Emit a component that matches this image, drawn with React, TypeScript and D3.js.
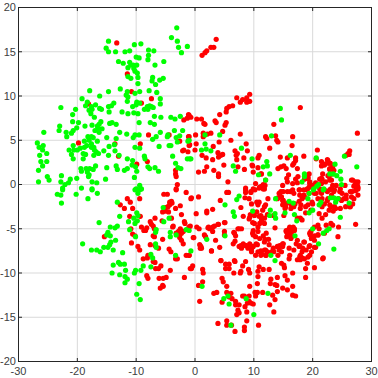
import React from "react";
import * as d3 from "d3";

const xTicks = [-30, -20, -10, 0, 10, 20, 30];
const yTicks = [-20, -15, -10, -5, 0, 5, 10, 15, 20];

const greenPoints: [number, number][] = [
[-26.8,4.7],[-26.5,4.2],[-25.8,4.4],[-25.9,3.9],[-25.2,3.5],[-26.4,3.3],[-26.2,2.6],[-25.2,2.6],[-25.9,2.1],[-26.6,1.6],[-25.1,0.9],[-24.8,0.5],[-26.6,0.3],[-22.7,1.0],[-22.8,0.3],[-22.1,0],[-22.5,-0.4],[-21.2,0.6],[-21.5,0.2],
[-23,6.6],[-23.1,6.1],[-21.9,5.9],[-21.8,5.4],[-21,5.8],[-20.7,6.1],[-20.1,6.4],[-25.7,5.9],[-22.8,8.7],[-20.8,7.9],[-20.3,8.5],[-20.8,7.1],[-19.8,7.0],[-19.2,9.7],[-17.9,10.6],[-18.3,9.3],[-18.6,8.9],[-17.6,8.8],[-16.9,9.0],[-18,8.4],[-17.5,8.5],[-17.7,8.0],[-17.1,7.6],[-16.2,10],[-14.7,10.5],[-16.2,8.6],[-15.9,8.5],[-14.7,8.8],[-14.2,8.9],[-13.8,9.2],[-14.6,8.2],[-16,7.1],[-16.3,6.8],[-16.6,6.6],[-18.7,6.6],[-17.5,6.7],[-17,6.1],[-16.5,6.3],[-15.8,6.3],[-16.3,5.9],[-14.5,6.9],[-14.1,7],[-13.4,6.8],[-12.8,5.9],[-15,5.3],[-13.4,5.2],[-11.6,5.7],[-10.5,5.3],[-10.2,5.6],[-9.5,5.6],
[-18.8,4.9],[-18.2,5.4],[-17.6,5.4],[-18,5],[-17.3,5.3],[-16.6,4.9],[-20.7,4.4],[-20.6,3.9],[-21.4,3.9],[-21,3.4],[-20.7,2.9],[-20,3.9],[-19.5,4.1],[-18.8,4.2],[-18.4,4.4],[-19,3.5],[-18.6,3.4],[-19,2.9],[-17.6,4.6],[-17.6,4.2],[-17.2,4.2],[-17.1,3.9],[-16.8,3.7],[-17.2,3.3],[-16.4,3.5],[-15.5,3.8],[-14.6,4.3],[-13.7,4.5],[-13.6,3.8],[-12.9,3.3],[-14.7,3.3],[-11.5,2.9],[-10.6,2.7],[-9.4,4.1],[-10.2,4.2],[-8.6,3.2],[-8.5,2.9],
[-16.9,2.1],[-19.4,1.8],[-19.3,1.5],[-18.5,1.8],[-17.9,1.8],[-17.3,1.7],[-18.3,1.4],[-18,1.1],[-18.1,0.9],[-15,1.9],[-13.4,2.1],[-13.2,1.7],[-12,1.6],[-11.5,1.8],[-10.7,2.2],[-10.1,2],[-9.9,1.5],[-10.3,.8],[-8,2],[-7.7,1.8],[-6.8,1.9],[-6.2,1.5],[-20.1,0.7],[-17.5,.3],[-16.7,.2],[-15.2,.6],[-19.3,-.4],[-17.5,-.5],[-10,-.5],[-9.4,-.1],[-9.1,-.5],
[-14.7,16.2],[-15.1,15.4],[-14.7,15],[-13.5,15],[-11.9,15],[-11.1,15.1],[-10.3,15.8],[-9.2,15.9],[-7.9,15.2],[-7,15.1],[-7.9,14.6],[-8,14.1],[-10,14.4],[-9.5,14.3],[-11.1,13.8],[-10.9,13.5],[-13,13.9],[-12.2,13.7],[-11.4,13.2],[-10.5,13.5],[-9.9,13.5],[-10.4,13.1],[-10.2,12.8],[-9.8,12.6],[-9.7,12.1],[-6.8,13.5],[-5.3,13.9],[-11.4,12.2],[-10.9,12],[-7.2,12.1],[-7.3,11.7],[-6.7,11.3],[-6,11.8],[-5.4,12],[-9.7,11.4],[-7.8,10.6],[-6.5,10.4],[-12.7,10.8],[-11.5,10.5],[-11.7,10.1],[-11.4,9.9],[-11.5,9.4],[-10.2,10.3],[-9.4,10.5],[-5.9,9.7],[-5.9,9.1],
[-9.9,9.3],[-9.4,9.2],[-10,9],[-10.6,8.8],[-8.6,8.5],[-8.1,8.8],[-7.7,8.9],[-7.4,8.8],[-7.1,8.7],[-8,8.5],[-12.4,8.2],[-11.4,8],[-10.4,8.1],[-9.7,8],[-6.9,7.7],[-9.5,7],[-5.8,7.6],[-7.6,7],[-6.9,6.8],[-4.1,7.6],[-3.4,7.4],[-2.5,7.7],[-5.9,5.9],[-3.5,6.1],[-2.1,6.1],[-4.7,5.4],[-4.6,5.6],[-3.2,5.3],[-2.6,5.5],[-3,4.8],[-1.2,4.9],[-7.2,5.1],[-6.6,5.4],[-6.1,4.3],[-4.4,4.4],[-4.1,4.4],[-3.8,3.2],[-1.3,2.9],[-3.3,2.4],[-2.9,1.9],[-2.4,1.8],
[-3.1,17.7],[-4,16.6],[-3,16.2],[-2.8,15.5],[-2.3,14.9],[-1.3,15.6],
[14.5,8.6],[14.7,7.3],[13,5.5],[1.7,5.6],[4.2,5.6],[-1,5],[1.7,4.6],[1.1,3.9],[1.9,4],[2.7,3.8],[7.9,4.1],[9.7,2.9],[-.9,2.9],[-.7,2.9],[6.5,2.1],[6.9,1.5],[11.6,2],[12.2,2.6],[12.3,2.1],[10.8,1.1],[12.7,1.2],[12,.5],[16.2,3.3],[25.4,3.2],[27.5,2],[23.8,2.3],[20.6,3],[24.7,1.5],[22.9,1.2],[23.5,1.2],[24.1,1],[24.8,.6],[18.6,1.2],[18.6,.9],[18.2,.3],[24.9,0],[21,0],[20.7,-.2],[20.2,-.5],[21.9,-.5],
[-23.4,-1.1],[-22.8,-1.2],[-22.7,-2.1],[-22.5,-.6],[-20.2,-1.1],[-17.5,-.6],[-18.2,-1.6],[-16.6,-1],[-13.2,-2],[-12.8,-3.6],[-16.3,-4.3],[-11.3,-4.2],[-9.9,-3.2],[-9.7,-3.5],[-10.4,-3.8],[-9.8,-4.1],[-10.2,-4.4],[-14.4,-4.8],[-13.6,-4.9],[-13.2,-4.7],[-11.1,-5.1],[-14.8,-5.4],[-15,-5.7],[-14.4,-5.8],[-13.5,-6.3],[-14.3,-6.5],[-14.5,-6.8],[-14.8,-7.1],[-15.5,-7.1],[-13.9,-7.4],[-16.1,-7.6],[-16.7,-7.4],[-17.6,-7.4],[-19.1,-6.7],[-10.1,-5.9],[-12.3,-7.7],[-13,-8.8],[-12.7,-9],[-13.9,-9.1],[-12,-9],[-11.8,-9.7],[-14.1,-10],[-12.8,-10.2],[-11.9,-10.4],[-11.5,-10.7],[-11.9,-11.1],[-10.1,-9.7],[-10.3,-10],[-9.2,-9.7],[-8.8,-9.2],[-9.5,-11.2],[-9.9,-12.4],[-9.3,-13],[-7.5,-7.9],[-7.2,-8.3],[-7.5,-9.3],[-6.6,-5.1],[-6.7,-5.4],[-6.7,-6.7],[-6.6,-7.1],[-5.4,-2.6],[-5.3,-4.2],[-4.4,-3.8],[-4.2,-5.4],[-4.2,-5.9],[-3.3,-8],[-1.5,-5.1],[-3.2,-5.7],[-10.2,-.6],[-9.4,-.6],[-9.7,-1],
[7.5,-1.3],[7.1,-1.7],[5.1,-2.3],[6.5,-3.1],[6.7,-3.6],[9.8,-3],[12.8,-2.9],[12.7,-3.5],[13.6,-3.3],[13.7,-3.8],[13.7,-1.6],[15.3,-3.2],[16,-1.9],[16.7,-2.1],[16.9,-3.4],[17.3,-4.1],[19.4,-3.2],[20,-2.9],[21.1,-2.3],[21.4,-2],[19.2,-1.6],[19.4,-1],[20.1,-.6],[21.8,-.6],[23,-1.5],[23.6,-1.5],[24.3,-1.6],[23.9,-2],[26.2,-2.1],[24.7,-3.7],[20,-5],[21.8,-5.5],[22.4,-5.2],[22.8,-5],[21,-6.7],[23.6,-7.3],[17,-5.8],[5.1,-5.8],[2,-6.2],[-1,-5.2],[-.7,-7.5],[12.9,-8],[13.6,-8.6],[1.2,-11.5],[12.4,-12.3],[4.9,-12.9],[5.6,-12.6],[5.8,-13.5],[8.7,-12.9],[10,-14.7],[6.1,-15.9],
];

const redPoints: [number, number][] = [
[-13.3,16],[-11.5,12.5],[-10.8,10.5],[-7.4,9.7],[-9.1,9.2],[-18.1,9.1],[-19.8,4.7],[-13.6,4.6],[-13,3.2],[-9.3,4.6],[-7.9,5.6],[-4.4,5.6],[-2.6,4.9],[-8.1,2.6],[-9.9,2.3],[-1.1,7.9],[-1.3,7.5],[-1.9,7.3],[-2.1,3.8],[-1.9,3.9],[-1.1,5.4],[-1,4.4],[-3.3,1.6],[-3.3,1.2],[-3.2,.9],[-3,0],[-3.2,-.5],
[3.6,16.4],[3.2,15.5],[2.7,15.5],[2,15.1],[1.7,14.9],[1.2,14.6],[9.3,10.2],[8.8,9.8],[7.1,9.8],[8.1,9.6],[7.7,9.3],[8.8,9.3],[9.3,9.4],[6.4,8.9],[5.8,8.8],[5.4,8.6],[5.3,8.2],[4.2,7.9],[17.9,8.7],[-1,7.8],[-.7,7.6],[.3,7.4],[1.1,7.4],[1.5,6.9],[1.7,6.8],[3.4,7.2],[3.6,7],[5.3,7],[5.1,6.7],[4.7,6],[13.4,6.8],[2.7,5.8],[2.1,5.7],[1.4,5.8],[1.4,5.4],[.1,5.6],[-1,5.4],[6.1,5],[7.7,5.7],[12,5.4],[12.2,5.2],[13.7,5.5],[13.9,5],[14.1,4.8],[16.6,5.4],[16.5,4.4],[12.7,4.1],[27.6,5.8],[4.1,4.8],[-.9,4.5],[.2,4.6],[-1.2,3.7],[0,3.9],[1.2,3.3],[1.9,3],[3.1,4.3],[3.9,3.6],[4.4,3.3],[4.7,3.4],[4,3.1],[3,2.8],[6.8,3.8],[7,3.3],[7.2,3.5],[7.1,2.8],[8.7,4.6],[8.9,3.8],[8.3,3],[4.9,2.2],[2,2],[.6,1.4],[1.6,1.5],[3.2,1.6],[4,1.2],[4,.9],[5.6,.3],[7.3,2],[8.4,1.7],[9.8,2.1],[9.9,1.4],[10.7,3],[10.9,3.3],[10.7,1.9],[11.2,1.2],[14.5,3.1],[15.7,3],[18.5,3.2],[17.1,3],[17.1,2.7],[16.8,2.4],[16.6,2.2],[17.4,1.8],[14.1,1.8],[14.6,2],[15.1,2.1],[15.5,1.8],[15.9,1.1],[15.6,.7],[14.9,-.1],[15.7,.3],[16.6,.1],[17.5,.9],[17.1,.6],[17.4,.2],[10.3,.1],[12,.5],[11.3,-.2],[11.9,-.1],[8.6,-.4],[10.9,-.4],[11.6,-.5],
[20.8,3.9],[20.6,2.9],[22.5,2.8],[23,2.4],[22.5,2.4],[22,2.2],[21.5,2.1],[22.9,1.7],[23.6,1.6],[23.4,1.2],[22.8,.9],[22.9,.5],[21.6,.6],[21.2,.6],[19.4,1.2],[19.2,.7],[19.5,.1],[18.9,.7],[19.9,-.2],[23.4,-.1],[24.7,-.5],[25.5,-.1],[26.6,.5],[27.3,.3],[27.6,-.1],[27,-.2],[27.7,-.5],[25.7,3.3],[26.2,3.4],[26.3,3.8],[18.5,-.6],[16.6,-.6],[19.1,-.5],[20.5,.2],[23.1,-.5],
[-11.5,-1.6],[-11,-2],[-12.7,-2.3],[-12,-2.7],[-10.6,-2.7],[-9.4,-1.6],[-11.1,-3.6],[-9.3,-3.6],[-10.9,-5],[-10.6,-5.6],[-10.2,-5.8],[-10.8,-6.6],[-15.4,-5.9],[-9.7,-7],[-9.4,-7.4],[-8.8,-8.4],[-8.1,-8.3],[-8,-8],[-7.1,-8.7],[-6.8,-8.8],[-8.2,-10.3],[-8,-10.6],[-6.7,-9.5],[-6.2,-9.5],[-5.8,-9.2],[-6.1,-10.6],[-5.4,-10.6],[-4.9,-10.5],[-5.5,-11.4],[-5.9,-11.7],[-5.4,-11.5],[-4.2,-9.7],[-1.8,-10.5],[-7.6,-4.2],[-7.4,-4.5],[-6.8,-3.8],[-9.1,-4.8],[-8.7,-5.2],[-8.2,-4.9],[-8.4,-5.2],[-7.1,-4.7],[-6.9,-5],[-7.1,-5.8],[-6.9,-5.9],[-5.5,-6.2],[-7.6,-6.8],[-6.2,-7.2],[-6.8,-6.9],[-4.4,-7.3],[-4.1,-7.6],[-3.3,-8.4],[-1.5,-8],[-1,-8],[-.8,-9.5],[-2,-6.7],[-2.3,-6.3],[-2.6,-6],[-2.8,-5.7],[-2.8,-5.3],[-2.5,-5],[-2,-5.3],[-2.3,-5.5],[-3.8,-4.8],[-1.8,-4.2],[-1.2,-5],[-4,-3.8],[-2.3,-3.4],[-3.3,-2.7],[-2.5,-2.4],[-4,-1.9],[-3.9,-2.1],[-4.6,-2.5],[-5,-2.6],[-5.5,-3.1],[-5,-3],[-4.5,-3.1],[-5.6,-4.1],[-5.3,-1.1],[-4.7,-1.1],[-3.2,-.6],[-1.5,-.9],
[-.7,-1.6],[.6,-1.4],[5.4,-.9],[5.7,-.9],[4.3,-1.8],[8.6,-.6],[8.6,-.9],[8.5,-1.5],[9.5,-.9],[10.2,-.6],[9.2,-1.6],[10.5,-2],[10.9,-2],[12,-2.3],[12.4,-1.6],[14.3,-1],[14.6,-.8],[15.7,-.8],[16.8,-1],[17.7,-.6],[18.5,-1.2],[19.4,-1],[20.3,-1],[21.4,-.8],[22.5,-.8],[23.6,-.8],[25,-1],[26.4,-.8],[27.3,-.7],[18.2,-1.6],[17.7,-1.9],[14,-1.6],[14.9,-1.8],[14.9,-2.3],[15.3,-2.7],[15.7,-2.1],[16.3,-2.7],[16.8,-2.5],[17.9,-2.7],[18.8,-2.5],[19.9,-2],[21.6,-1.6],[22.5,-1.8],[23.1,-2.5],[23.9,-2.7],[24.7,-2.7],[25.6,-2.5],[26.4,-2.5],[27,-1.6],[25.3,-1.6],[24.4,-1.6],[21.6,-2.5],[22.8,-2.9],[23.5,-3],[22.2,-3.4],[21.1,-3.3],[19.7,-2.9],[18.8,-3.2],[17.9,-3.8],[18.2,-4],[17.4,-3.8],[15.1,-3.5],[13.3,-3.5],[12.3,-3.4],[11.5,-2.9],[10.5,-3.1],[9.4,-3.4],[8.2,-3.6],[7.8,-2.6],[9.2,-3.9],[10.9,-3.6],[11.8,-4.4],[9.8,-4.3],[7.5,-5],[7.9,-5],[5.1,-4.3],[5,-5.3],[4,-4.5],[3,-4.8],[2.3,-4.8],[3,-5.3],[3.3,-4.7],[2,-3.2],[3,-2.8],[.2,-3.3],[-1,-4.8],[.3,-4.8],[.7,-5],[-.2,-6],[1.8,-5.9],[5,-5.7],[6.7,-5.5],[6.9,-5.8],[6.8,-6.4],[9.8,-5.5],[10.7,-4.8],[10.7,-5.3],[10.3,-5.9],[11.6,-5.8],[11.9,-6.2],[12.5,-6.2],[13.6,-4.9],[12.6,-6.8],[15.5,-5.3],[15.7,-5.5],[16,-5],[16.3,-5.3],[16.7,-4.8],[15.6,-5.9],[16.3,-6.1],[16.9,-5.2],[17.4,-6.3],[16,-5.7],[14.9,-6.7],[14.9,-7],[14,-7],[13.3,-7.2],[12,-7.4],[11.2,-7.5],[10.6,-6.8],[9.8,-7],[9.6,-7.3],[9.3,-6.9],[8.6,-6.9],[7.8,-6.9],[7.9,-7.2],[7.5,-7],[4.2,-7.1],[2.8,-7.5],[.8,-6.8],[.9,-7.2],[-1,-8],[9.6,-7.6],[10.3,-8],[11.2,-8],[12.3,-7.6],[12,-8],[13.4,-7.6],[14.3,-7.4],[16,-7.2],[16.8,-7.4],[17.7,-7],[18.5,-6.5],[19.4,-7],[20.5,-7.1],[19.8,-6.1],[20.3,-5.8],[20.9,-5.7],[19.7,-5.3],[19.6,-5.7],[21.1,-5],[21.6,-3.8],[23.1,-4.4],[24.4,-4.8],[27.3,-4.5],[18.2,-7.6],[17.9,-8],[18.2,-8.3],[17.4,-8.5],[17.9,-8.5],[16,-8.4],[14.7,-8.9],[15.1,-9.1],[15.2,-9.4],[18.8,-9.5],[19.1,-8.9],[20.3,-9.4],[21.8,-8.3],[18.8,-10.5],[16.6,-10],[15.3,-10.3],[15.7,-10.8],[14,-10.5],[12.9,-10.7],[12.8,-11.2],[13.6,-11.3],[13.9,-11.4],[16.6,-11.5],[14.9,-11.7],[15.7,-11.9],[14,-12.1],[13.2,-12.5],[13.6,-13],[16.6,-12.5],[17.1,-12.6],[12.7,-13.6],[13.4,-14.4],[11.5,-12.2],[10.6,-12.2],[10.2,-12.2],[10.3,-12.6],[9.3,-11.5],[10.6,-11.2],[10.7,-10.4],[10.7,-9.8],[11.6,-9.6],[12.6,-9.6],[10.9,-9.3],[9.1,-9.6],[9.3,-10],[8.6,-8.7],[8.1,-9.2],[7.8,-9.8],[7.7,-10],[6.6,-10],[6.8,-8.7],[5.8,-9],[5.2,-9.5],[4.4,-8.6],[1.3,-9.6],[1.4,-10],[-.4,-9.2],[-.6,-9.5],[4.6,-10.6],[4.8,-11],[5.4,-11.5],[1.3,-11],[.6,-11.4],[3.2,-12.3],[3.7,-12.2],[5.4,-12.2],[6.1,-12.3],[5.8,-12.7],[6.3,-12.9],[4.6,-13.3],[.8,-13.2],[6.9,-13.2],[6.9,-13.6],[7.5,-13.6],[7.3,-14.2],[7.5,-14.5],[7.1,-14.7],[8.1,-12.6],[8.4,-12.6],[9.2,-12.6],[8.9,-13.4],[9.5,-13.4],[9.2,-13.2],[9.9,-13.5],[8.5,-13.8],[8.8,-14.4],[8.8,-15.4],[8.4,-16.1],[8.4,-16.5],[6.8,-16.6],[5.4,-15.4],[5.4,-15.9],[6.2,-15.9],[3.9,-15.7],[10.8,-15.9],
[26,3.5],[11.3,1.2],[9.7,2.2],[19.2,.8],[18.6,.6],[19.5,.3],[20,-.1],[19.4,-.3],[19,-.6],[17.8,-.6],[16.2,-.8],[15,-.8],[14.4,-1],[14.7,-1.4],[14.1,-1.5],[15,-1.8],[15.2,-2.2],[15.4,-2.5],[16.4,-2.3],[17,-2.2],[10.7,-2.3],[9.6,-2.2],[11.8,-2.5],[17.8,-1.2],[18.6,-1.4],[18,-2.3],[19.2,-2.3],[20,-2.2],[20.9,-1.6],[20.6,-1],[21.5,-1],[22,-.6],[21.2,-.5],[22.9,-.6],[23.2,-1.2],[22.6,-1.6],[22,-2.2],[22.9,-2.3],[23.7,-2.5],[24.9,-1.8],[25.7,-1.2],[25.7,-1.6],[26.6,-1.4],[26.8,-2.2],[26.3,-2.5],[24.6,-.8],[23.7,-.6],[24,-.1],[21.5,.1],[21.5,.7],[22.2,.3],[23.2,.5],[21.7,1.2],[22.6,1],[21.5,2.6],[22,2.3],[22.6,2.7],[22.9,2.4],[22.9,1.8],[23.4,2],[26.8,.5],[27.7,.3],[27.1,-.1],[27.7,-.3],[27.4,-.6],[26.7,-.8],[27.7,-1.2],[9.9,-.5],[11.6,0],[11.8,-.5],[11,-.3],[9.5,-.8],
[2,-3],[1,-7],[2.8,-7.5],[1.6,-5.7],[2.2,-4.9],[3.9,-4.5],[5,-4.3],[2.5,-5],[6.6,-5.4],[7.3,-5],[6.5,-6.7],[5.2,-9],[4.4,-8.6],[6.7,-8.6],[5.8,-9.5],[9.9,-5.2],[9.9,-5.7],[10.1,-4.4],[11,-4.4],[11.3,-4],[11.2,-3.5],[9.3,-3.7],[10.1,-3.5],[11.8,-3.8],[8.2,-6.7],[8.7,-6.9],[9.3,-6.7],[9,-7.2],[9.9,-7],[10.4,-6.7],[11,-6.1],[11.8,-6.5],[12.1,-5.5],[10.7,-7.6],[11.3,-7.8],[11.8,-7.4],[12.1,-8],[13,-7.6],[14.1,-8],[14.7,-7.6],[15,-6.7],[14.4,-6.9],[15.5,-5.2],[16.1,-4.8],[15.8,-5.5],[16.4,-5.4],[16.9,-5],[16.4,-5.9],[17.2,-6.7],[17.8,-6.9],[18.6,-6.5],[19.5,-6.9],[20.3,-7.1],[18.3,-7.2],[18.9,-7.4],[19.8,-7.6],[16.1,-8],[17.8,-8.2],[18.6,-8.4],[19.2,-8.2],[19.5,-8],[21.7,-8.4],[20.3,-4.8],[20.9,-4.6],[22.3,-4.6],[23.4,-4.6],[22,-5.5],[19.5,-5.5],[19.8,-6.1],[20.3,-6.3],[20.9,-5.7],[24.3,-5.9],
[-.6,-1.5],[-4.3,-2.3],[-4.3,-2],[-3.7,-4.7],[-.8,-4.7],[-1.7,-4.4],[-3.2,-5.5],[-2.6,-5.7],[-.3,-6],[3.5,-6.3],[1.1,-7.2],[-3,-8.4],
];

const W = 378;
const H = 378;
const x = d3.scaleLinear().domain([-30, 30]).range([18.5, 371.5]);
const y = d3.scaleLinear().domain([-20, 20]).range([361.5, 7.5]);
const axisColor = "#262626";
const textColor = "#404040";
const font = "'Liberation Sans', Arial, sans-serif";

export default function App() {
  return (
    <svg width={W} height={H} style={{ position: "fixed", left: 0, top: 0, background: "#fff" }}>
      {xTicks.slice(1, -1).map((t) => (
        <line key={t} x1={x(t)} x2={x(t)} y1={y(-20)} y2={y(20)} stroke="#d9d9d9" strokeWidth={1} />
      ))}
      {yTicks.slice(1, -1).map((t) => (
        <line key={t} x1={x(-30)} x2={x(30)} y1={y(t)} y2={y(t)} stroke="#d9d9d9" strokeWidth={1} />
      ))}
      {redPoints.map((p, i) => (
        <circle key={"r" + i} cx={x(p[0])} cy={y(p[1])} r={2.6} fill="#ff0000" />
      ))}
      {greenPoints.map((p, i) => (
        <circle key={"g" + i} cx={x(p[0])} cy={y(p[1])} r={2.6} fill="#00ff00" />
      ))}
      <rect x={x(-30)} y={y(20)} width={x(30) - x(-30)} height={y(-20) - y(20)} fill="none" stroke={axisColor} strokeWidth={1} />
      {xTicks.map((t) => (
        <g key={t}>
          <line x1={x(t)} x2={x(t)} y1={y(-20)} y2={y(-20) - 3.5} stroke={axisColor} />
          <line x1={x(t)} x2={x(t)} y1={y(20)} y2={y(20) + 3.5} stroke={axisColor} />
          <text x={x(t)} y={375} textAnchor="middle" fontFamily={font} fontSize={11} fill={textColor}>{t}</text>
        </g>
      ))}
      {yTicks.map((t) => (
        <g key={t}>
          <line x1={x(-30)} x2={x(-30) + 3.5} y1={y(t)} y2={y(t)} stroke={axisColor} />
          <line x1={x(30)} x2={x(30) - 3.5} y1={y(t)} y2={y(t)} stroke={axisColor} />
          <text x={16} y={y(t) + 3.9} textAnchor="end" fontFamily={font} fontSize={11} fill={textColor}>{t}</text>
        </g>
      ))}
    </svg>
  );
}
